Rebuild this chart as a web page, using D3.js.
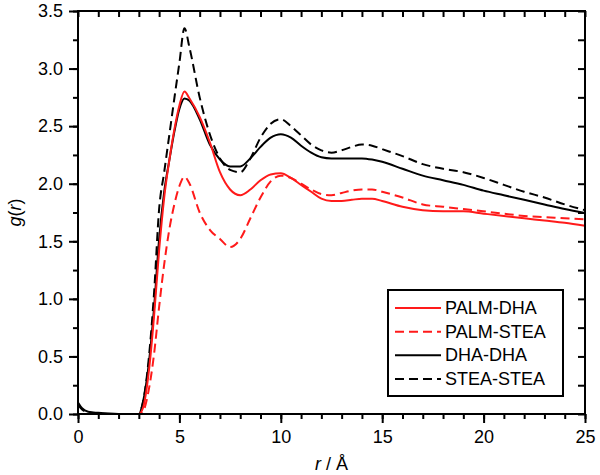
<!DOCTYPE html>
<html>
<head>
<meta charset="utf-8">
<script src="https://cdn.jsdelivr.net/npm/d3@7"></script>
<style>
  body { margin: 0; background: #fff; }
  svg { font-family: "Liberation Sans", Arial, sans-serif; }
</style>
</head>
<body>
<svg width="600" height="475"></svg>
<script>
// r grid (Angstrom) shared by all series
var rVals = [0, 0.2, 0.5, 1, 2, 3, 3.2, 3.5, 3.75, 4, 4.25, 4.5, 4.75, 5, 5.25, 5.5, 6, 6.5, 7, 7.5,
  8, 8.5, 9, 9.5, 10, 10.5, 11, 11.5, 12, 12.5, 13, 13.5, 14, 14.5, 15, 16, 17, 18, 19, 20,
  21, 22, 23, 24, 25];

var palmDha = [0, 0, 0, 0, 0, 0, 0.05, 0.38, 0.85, 1.42, 1.88, 2.2, 2.47, 2.68, 2.8, 2.74, 2.58, 2.36, 2.1, 1.95,
  1.9, 1.95, 2.03, 2.08, 2.09, 2.05, 1.99, 1.93, 1.87, 1.85, 1.85, 1.86, 1.87, 1.87, 1.85, 1.8, 1.77, 1.76, 1.76, 1.74,
  1.72, 1.7, 1.68, 1.66, 1.635];

var palmStea = [0, 0, 0, 0, 0, 0, 0.02, 0.22, 0.52, 0.93, 1.3, 1.6, 1.82, 1.98, 2.06, 2.0, 1.75, 1.6, 1.52, 1.45,
  1.52, 1.7, 1.88, 2.02, 2.07, 2.05, 2.0, 1.95, 1.91, 1.9, 1.92, 1.94, 1.95, 1.95, 1.93, 1.88, 1.82, 1.8, 1.78, 1.76,
  1.74, 1.72, 1.71, 1.7, 1.69];

var dhaDha = [0.1, 0.05, 0.02, 0.01, 0, 0, 0.1, 0.45, 0.92, 1.52, 1.93, 2.2, 2.45, 2.65, 2.74, 2.72, 2.56, 2.34, 2.21, 2.15,
  2.15, 2.22, 2.32, 2.4, 2.43, 2.4, 2.33, 2.27, 2.23, 2.22, 2.22, 2.22, 2.22, 2.21, 2.19, 2.13, 2.07, 2.03, 1.99, 1.94,
  1.9, 1.86, 1.82, 1.78, 1.745];

var steaStea = [0.08, 0.04, 0.015, 0.005, 0, 0, 0.1, 0.5, 1.05, 1.78, 2.1, 2.42, 2.74, 3.05, 3.35, 3.18, 2.75, 2.43, 2.22, 2.12,
  2.1, 2.22, 2.4, 2.52, 2.56, 2.5, 2.42, 2.34, 2.29, 2.27, 2.29, 2.32, 2.34, 2.33, 2.3, 2.24, 2.17, 2.13, 2.1, 2.05,
  1.99, 1.93, 1.88, 1.82, 1.77];

var seriesNames = ["PALM-DHA", "PALM-STEA", "DHA-DHA", "STEA-STEA"];
var seriesColors = ["#ff1a1a", "#ff1a1a", "#000", "#000"];
var seriesDash = [null, "9,5", null, "9,5"];
var seriesVals = [palmDha, palmStea, dhaDha, steaStea];

var xTicks = [0, 5, 10, 15, 20, 25];
var yTicks = [0, 0.5, 1, 1.5, 2, 2.5, 3, 3.5];

var svg = d3.select("svg");
var pLeft = 78, pRight = 585, pTop = 11, pBottom = 414;

var x = d3.scaleLinear().domain([0, 25]).range([pLeft, pRight]);
var y = d3.scaleLinear().domain([0, 3.5]).range([pBottom, pTop]);

var line = d3.line()
  .x(function(d) { return x(d[0]); })
  .y(function(d) { return y(d[1]); })
  .curve(d3.curveMonotoneX);

// plot curves (black first so red sits on top like the original)
var order = [3, 2, 1, 0];
svg.append("g").selectAll("path")
  .data(order)
  .enter().append("path")
  .attr("fill", "none")
  .attr("stroke", function(i) { return seriesColors[i]; })
  .attr("stroke-width", 2)
  .attr("stroke-dasharray", function(i) { return seriesDash[i]; })
  .attr("d", function(i) {
    return line(rVals.map(function(r, k) { return [r, seriesVals[i][k]]; }));
  });

// axes
var fontSize = 18;
var xMinor = d3.range(0, 26, 1);
var yMinor = d3.range(0, 3.51, 0.25);

var xAxisB = d3.axisBottom(x).tickValues(xTicks).tickSize(9).tickPadding(7).tickFormat(d3.format("d"));
var xAxisBm = d3.axisBottom(x).tickValues(xMinor).tickSize(5).tickFormat("");
var yAxisL = d3.axisLeft(y).tickValues(yTicks).tickSize(9).tickPadding(6).tickFormat(d3.format(".1f"));
var yAxisLm = d3.axisLeft(y).tickValues(yMinor).tickSize(5).tickFormat("");
var xAxisT = d3.axisBottom(x).tickValues(xMinor).tickSize(6).tickFormat("");
var yAxisR = d3.axisLeft(y).tickValues(yMinor).tickSize(7).tickFormat("");

function style(g) {
  g.selectAll(".domain").remove();
  g.selectAll("line").attr("stroke", "#000").attr("stroke-width", 2);
  g.selectAll("text").attr("fill", "#000").style("font-size", fontSize + "px");
}

svg.append("g").attr("transform", "translate(0," + pBottom + ")").call(xAxisBm).call(style);
svg.append("g").attr("transform", "translate(0," + pBottom + ")").call(xAxisB).call(style);
svg.append("g").attr("transform", "translate(" + pLeft + ",0)").call(yAxisLm).call(style);
svg.append("g").attr("transform", "translate(" + pLeft + ",0)").call(yAxisL).call(style);
svg.append("g").attr("transform", "translate(0," + pTop + ")").call(xAxisT).call(style);
svg.append("g").attr("transform", "translate(" + pRight + ",0)").call(yAxisR).call(style);

svg.append("rect")
  .attr("x", pLeft).attr("y", pTop)
  .attr("width", pRight - pLeft).attr("height", pBottom - pTop)
  .attr("fill", "none").attr("stroke", "#000").attr("stroke-width", 2);

// axis titles
var xt = svg.append("text")
  .attr("x", (pLeft + pRight) / 2).attr("y", 470)
  .attr("text-anchor", "middle").style("font-size", fontSize + "px");
xt.append("tspan").style("font-style", "italic").text("r");
xt.append("tspan").text(" / Å");

var yt = svg.append("text")
  .attr("transform", "translate(21," + ((pTop + pBottom) / 2) + ") rotate(-90)")
  .attr("text-anchor", "middle").style("font-size", fontSize + "px");
yt.append("tspan").style("font-style", "italic").text("g");
yt.append("tspan").text("(");
yt.append("tspan").style("font-style", "italic").text("r");
yt.append("tspan").text(")");

// legend
var legend = svg.append("g");
legend.append("rect")
  .attr("x", 388).attr("y", 290).attr("width", 175).attr("height", 106)
  .attr("fill", "#fff").attr("stroke", "#000").attr("stroke-width", 2);

var rowY = d3.scaleLinear().domain([0, 3]).range([308, 379]);
var rows = legend.selectAll("g.row").data(d3.range(4)).enter().append("g").attr("class", "row");
rows.append("line")
  .attr("x1", 395).attr("x2", 441)
  .attr("y1", function(i) { return rowY(i); }).attr("y2", function(i) { return rowY(i); })
  .attr("stroke", function(i) { return seriesColors[i]; })
  .attr("stroke-width", 2)
  .attr("stroke-dasharray", function(i) { return seriesDash[i]; });
rows.append("text")
  .attr("x", 445).attr("y", function(i) { return rowY(i) + 6; })
  .style("font-size", fontSize + "px")
  .text(function(i) { return seriesNames[i]; });
</script>
</body>
</html>
